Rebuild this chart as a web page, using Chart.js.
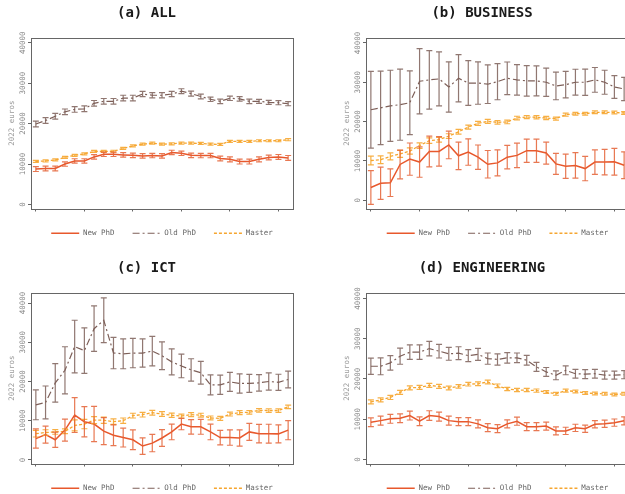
<!DOCTYPE html>
<html>
<head>
<meta charset="utf-8">
<script src="https://cdn.jsdelivr.net/npm/chart.js@4/dist/chart.umd.min.js"></script>
<style>
  html, body { margin: 0; padding: 0; background: #fff; }
  #page { position: relative; width: 625px; height: 494px; overflow: hidden; }
  .panel { position: absolute; }
</style>
</head>
<body>
<div id="page">
  <div class="panel" style="left:0px;top:0px"><canvas id="c1" width="310" height="250"></canvas></div>
  <div class="panel" style="left:335px;top:0px"><canvas id="c2" width="311" height="250"></canvas></div>
  <div class="panel" style="left:0px;top:255px"><canvas id="c3" width="310" height="250"></canvas></div>
  <div class="panel" style="left:335px;top:255px"><canvas id="c4" width="311" height="250"></canvas></div>
</div>
<script>
const years = [1995, 1996, 1997, 1998, 1999, 2000, 2001, 2002, 2003, 2004, 2005, 2006, 2007, 2008,
  2009, 2010, 2011, 2012, 2013, 2014, 2015, 2016, 2017, 2018, 2019, 2020, 2021];
const xTicks = [1995, 2000, 2005, 2010, 2015, 2020];
const yTicks = [0, 10000, 20000, 30000, 40000];
const seriesNames = ['New PhD', 'Old PhD', 'Master'];

// (a) ALL
const allNew = [8750, 8900, 8900, 10000, 10750, 10750, 11750, 12400, 12400, 12250, 12150, 12000, 12100, 12000,
  12850, 12650, 12150, 12100, 12100, 11350, 11150, 10600, 10600, 11150, 11600, 11750, 11500];
const allNewErr = [600, 600, 600, 550, 550, 550, 550, 550, 550, 550, 550, 550, 550, 550,
  550, 550, 550, 550, 550, 600, 600, 600, 600, 600, 600, 600, 600];
const allOld = [19900, 20750, 21800, 22900, 23500, 23650, 25000, 25500, 25500, 26300, 26300, 27300, 27000, 27000,
  27300, 28000, 27400, 26700, 26000, 25500, 26250, 26100, 25500, 25500, 25250, 25150, 24900];
const allOldErr = [700, 700, 700, 700, 700, 700, 700, 700, 700, 700, 700, 650, 650, 650,
  650, 600, 600, 600, 550, 550, 550, 550, 550, 500, 500, 500, 500];
const allMaster = [10650, 10750, 11000, 11650, 12150, 12500, 13100, 13100, 13150, 13850, 14500, 14900, 15150, 14900,
  15000, 15150, 15150, 15100, 14900, 14850, 15600, 15600, 15600, 15750, 15750, 15750, 16000];
const allMasterErr = [250, 250, 250, 250, 250, 250, 250, 250, 250, 250, 250, 250, 250, 250,
  250, 250, 250, 250, 250, 250, 250, 250, 250, 250, 250, 250, 250];

// (b) BUSINESS
const busNew = [3250, 4300, 4450, 9100, 10450, 9700, 12400, 12400, 14050, 11300, 12250, 10950, 9150, 9500,
  10950, 11400, 12600, 12600, 12000, 9250, 8650, 8850, 8050, 9700, 9700, 9800, 8900];
const busNewErr = [4300, 4100, 3500, 3650, 4100, 3850, 3900, 3750, 3500, 3500, 3350, 3100, 3500, 3300,
  3000, 3100, 2950, 2950, 2800, 2650, 3100, 3250, 3100, 3100, 3250, 3400, 3400];
const busOld = [23000, 23500, 24000, 24300, 24800, 30250, 30600, 30850, 28800, 31000, 29800, 29800, 29500, 30150,
  31000, 30600, 30350, 30350, 30000, 29050, 29400, 30000, 30000, 30600, 30000, 28800, 28300];
const busOldErr = [9750, 9350, 9050, 9050, 8100, 8300, 7450, 6850, 6400, 6000, 5700, 5400, 4900, 4600,
  4150, 3900, 3900, 3800, 3600, 3500, 3350, 3300, 3350, 3150, 3050, 2900, 2950];
const busMaster = [10100, 10300, 11150, 11800, 12500, 13900, 15150, 15400, 16300, 17400, 18600, 19550, 20050, 19800,
  19900, 20900, 21150, 21100, 20900, 20750, 21750, 22000, 22000, 22350, 22350, 22300, 22200];
const busMasterErr = [1100, 1000, 900, 900, 800, 700, 700, 600, 600, 600, 500, 500, 500, 450,
  450, 450, 400, 400, 400, 400, 400, 350, 350, 350, 350, 350, 350];

// (c) ICT
const ictNew = [5450, 6450, 5150, 7600, 11450, 9750, 9150, 7350, 6300, 5700, 5150, 3550, 4300, 5600,
  7150, 9150, 8450, 8450, 7150, 5700, 5700, 5600, 7150, 6700, 6700, 6650, 7600];
const ictNewErr = [2450, 2150, 1950, 2800, 4450, 3850, 4500, 3450, 2650, 2400, 2500, 2100, 2200, 2150,
  2000, 1450, 1850, 1900, 2000, 1850, 1950, 2050, 2150, 2350, 2400, 2300, 2450];
const ictOld = [14050, 14650, 19650, 22850, 28900, 27850, 33450, 35600, 27250, 27050, 27250, 27250, 27750, 26550,
  25000, 23950, 22950, 22250, 19150, 19150, 19900, 19500, 19500, 19650, 20000, 19800, 20500];
const ictOldErr = [3800, 4200, 4900, 6000, 6700, 5800, 5800, 5700, 4000, 3800, 3750, 3600, 3750, 3550,
  3300, 3000, 2850, 2900, 2550, 2450, 2400, 2450, 2300, 2100, 2200, 2050, 2150];
const ictMaster = [6700, 7000, 7150, 7300, 8800, 9150, 10150, 10150, 9750, 10000, 11300, 11550, 12050, 11700,
  11400, 11200, 11550, 11400, 10700, 10600, 11700, 12050, 12150, 12650, 12600, 12600, 13550];
const ictMasterErr = [850, 700, 600, 600, 1400, 1200, 900, 800, 700, 700, 600, 600, 600, 600,
  550, 500, 500, 500, 500, 500, 500, 500, 450, 450, 450, 450, 450];

// (d) ENGINEERING
const engNew = [9250, 9650, 10100, 10250, 10900, 9500, 10900, 10650, 9650, 9400, 9400, 8850, 7900, 7650,
  8850, 9500, 8150, 8150, 8300, 7100, 7100, 7850, 7650, 8750, 8850, 9150, 9600];
const engNewErr = [1100, 1100, 1100, 1100, 1100, 1100, 1200, 1100, 1100, 1000, 1000, 1000, 1000, 1000,
  1000, 1000, 1000, 1000, 1000, 1000, 900, 900, 900, 900, 900, 900, 1000];
const engOld = [23150, 23150, 24000, 25650, 26650, 26650, 27550, 26900, 26250, 26400, 25800, 26100, 25050, 24850,
  25250, 25250, 24650, 23000, 21750, 20900, 22150, 21300, 21200, 21300, 20950, 20950, 21050];
const engOldErr = [2000, 2100, 1800, 2000, 1800, 1800, 1800, 1700, 1600, 1600, 1500, 1500, 1400, 1400,
  1300, 1200, 1200, 1100, 1100, 1100, 1100, 1100, 1100, 1100, 1000, 1000, 1000];
const engMaster = [14300, 14800, 15400, 16650, 17800, 17900, 18400, 18150, 17750, 18150, 18700, 18800, 19250, 18300,
  17500, 17250, 17250, 17100, 16750, 16300, 17100, 16900, 16500, 16400, 16300, 16150, 16300];
const engMasterErr = [500, 500, 500, 500, 500, 500, 500, 500, 450, 450, 450, 450, 450, 450,
  400, 400, 400, 400, 350, 350, 350, 350, 350, 350, 350, 350, 350];

const mono = 'DejaVu Sans Mono';
const lineColors = ['#e8582c', '#7d5f58', '#f6a630'];
const barColors = ['rgba(228, 96, 52, 0.85)', 'rgba(125, 95, 88, 0.85)', 'rgba(246, 166, 48, 0.9)'];
const dashes = [[], [7, 3, 2, 3], [3, 2]];
const widths = [1.5, 1.2, 1.3];

// vertical error bars with small caps, drawn through the chart's own scales
const errorBars = {
  id: 'errorBars',
  afterDatasetsDraw(chart) {
    const { ctx, scales: { x, y } } = chart;
    ctx.save();
    ctx.setLineDash([]);
    ctx.lineWidth = 1.2;
    for (let d = chart.data.datasets.length - 1; d >= 0; d--) {
      const ds = chart.data.datasets[d];
      ctx.strokeStyle = ds.errorColor;
      ds.data.forEach((p, i) => {
        const px = x.getPixelForValue(p.x);
        const top = y.getPixelForValue(p.y + ds.errors[i]);
        const bot = y.getPixelForValue(p.y - ds.errors[i]);
        ctx.beginPath();
        ctx.moveTo(px, top); ctx.lineTo(px, bot);
        ctx.moveTo(px - 3, top); ctx.lineTo(px + 3, top);
        ctx.moveTo(px - 3, bot); ctx.lineTo(px + 3, bot);
        ctx.stroke();
      });
    }
    ctx.restore();
  }
};

// box around the plot area
const frame = {
  id: 'frame',
  afterDraw(chart) {
    const { ctx, chartArea: a } = chart;
    ctx.save();
    ctx.strokeStyle = '#666';
    ctx.lineWidth = 1;
    ctx.strokeRect(Math.round(a.left) + 0.5, Math.round(a.top) + 0.5,
      Math.round(a.right - a.left), Math.round(a.bottom - a.top));
    ctx.restore();
  }
};

// legend samples keep each series' own dash pattern
function legendLabels(chart) {
  return Chart.defaults.plugins.legend.labels.generateLabels(chart).map(l => Object.assign(l, {
    pointStyle: 'line',
    strokeStyle: lineColors[l.datasetIndex],
    fillStyle: lineColors[l.datasetIndex],
    lineWidth: widths[l.datasetIndex],
    lineDash: dashes[l.datasetIndex]
  }));
}

function makeChart(id, title, yMin, yMax, series) {
  const datasets = series.map((s, k) => ({
    label: seriesNames[k],
    data: years.map((yr, i) => ({ x: yr, y: s[0][i] })),
    errors: s[1],
    errorColor: barColors[k],
    borderColor: lineColors[k],
    backgroundColor: lineColors[k],
    borderWidth: widths[k],
    borderDash: dashes[k],
    pointRadius: 0,
    tension: 0
  }));

  new Chart(document.getElementById(id), {
    type: 'line',
    data: { datasets },
    plugins: [errorBars, frame],
    options: {
      responsive: false,
      animation: false,
      layout: { padding: { left: 0, right: 17, top: 0, bottom: 3 } },
      plugins: {
        title: {
          display: true,
          text: title,
          color: '#1a1a1a',
          font: { family: mono, size: 14, weight: 'bold' },
          padding: { top: 5, bottom: 16 }
        },
        legend: {
          position: 'bottom',
          fullSize: false,
          labels: {
            usePointStyle: true,
            pointStyle: 'line',
            pointStyleWidth: 28,
            padding: 18,
            color: '#666',
            font: { family: mono, size: 7.5 },
            generateLabels: legendLabels
          }
        },
        tooltip: { enabled: false }
      },
      scales: {
        x: {
          type: 'linear',
          min: 1994.5,
          max: 2021.5,
          afterBuildTicks: s => { s.ticks = xTicks.map(v => ({ value: v })); },
          afterFit: s => { s.height = 3; },
          ticks: {
            autoSkip: false,
            maxRotation: 0,
            padding: 2,
            color: '#666',
            font: { family: mono, size: 7.5 },
            callback: v => String(v)
          },
          grid: { drawOnChartArea: false, tickLength: 3, color: '#666' },
          border: { display: false }
        },
        y: {
          min: yMin,
          max: yMax,
          afterBuildTicks: s => { s.ticks = yTicks.map(v => ({ value: v })); },
          afterFit: s => { s.width = 31; },
          ticks: {
            autoSkip: false,
            minRotation: 90,
            maxRotation: 90,
            crossAlign: 'center',
            padding: -6,
            color: '#888',
            font: { family: mono, size: 7.5 },
            callback: v => String(v)
          },
          title: {
            display: true,
            text: '2022 euros',
            color: '#999',
            font: { family: mono, size: 7.5 },
            padding: { top: 7.5, bottom: 0 }
          },
          grid: { drawOnChartArea: false, tickLength: 3, color: '#666' },
          border: { display: false }
        }
      }
    }
  });
}

makeChart('c1', '(a) ALL', -1000, 41200,
  [[allNew, allNewErr], [allOld, allOldErr], [allMaster, allMasterErr]]);
makeChart('c2', '(b) BUSINESS', -2100, 41300,
  [[busNew, busNewErr], [busOld, busOldErr], [busMaster, busMasterErr]]);
makeChart('c3', '(c) ICT', -900, 42600,
  [[ictNew, ictNewErr], [ictOld, ictOldErr], [ictMaster, ictMasterErr]]);
makeChart('c4', '(d) ENGINEERING', -1000, 41400,
  [[engNew, engNewErr], [engOld, engOldErr], [engMaster, engMasterErr]]);
</script>
</body>
</html>
